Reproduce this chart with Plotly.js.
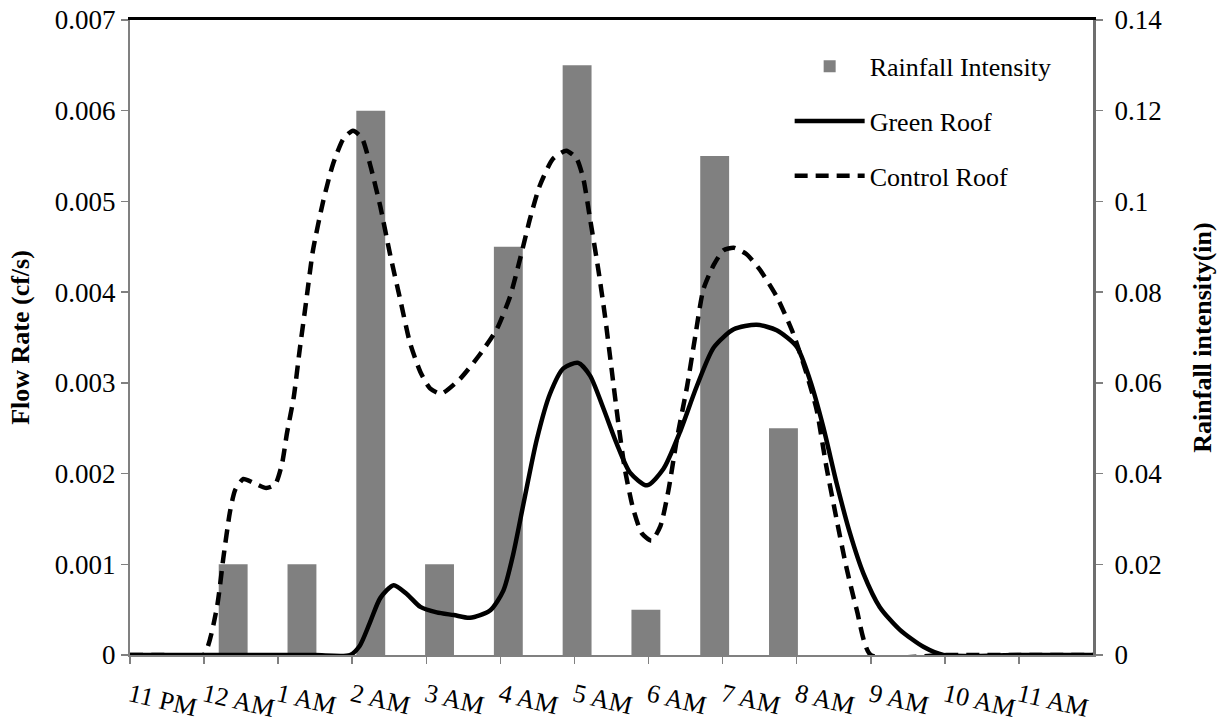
<!DOCTYPE html>
<html>
<head>
<meta charset="utf-8">
<script src="https://cdn.plot.ly/plotly-3.0.1.min.js"></script>
<style>
  html, body { margin: 0; padding: 0; background: #ffffff; }
  #chart { width: 1224px; height: 725px; }
</style>
</head>
<body>
<div id="chart"></div>
<script>
// Hour tick labels (hours since 11 PM)
const hourTicks = [0, 1, 2, 3, 4, 5, 6, 7, 8, 9, 10, 11, 12];
const hourLabels = ['11 PM', '12 AM', '1 AM', '2 AM', '3 AM', '4 AM', '5 AM', '6 AM', '7 AM', '8 AM', '9 AM', '10 AM', '11 AM'];

// Rainfall intensity (in) per bar category
const rainCats = [0, 1, 2, 3, 4, 5, 6, 7, 8, 9, 10, 11, 12, 13];
const rainfall = [0, 0.02, 0.02, 0.12, 0.02, 0.09, 0.13, 0.01, 0.11, 0.05, 0, 0, 0, 0];

// Control roof flow (cf/s) vs hours since 11 PM
const controlX = [0, 0.5, 0.99, 1.17, 1.26, 1.35, 1.42, 1.53, 1.66, 1.84, 1.96, 2.05, 2.12, 2.21, 2.29, 2.38, 2.47, 2.61, 2.74, 2.88, 3.01, 3.13, 3.24, 3.38, 3.51, 3.65, 3.78, 3.92, 4.05, 4.2, 4.45, 4.72, 4.95, 5.13, 5.27, 5.40, 5.53, 5.71, 5.89, 6.03, 6.12, 6.21, 6.32, 6.41, 6.50, 6.59, 6.68, 6.79, 6.91, 7.04, 7.16, 7.27, 7.38, 7.52, 7.63, 7.74, 7.88, 8.01, 8.15, 8.32, 8.50, 8.73, 8.95, 9.13, 9.27, 9.40, 9.54, 9.67, 9.81, 10.0, 11, 12, 13];
const controlY = [0, 0, 0, 0.00051, 0.00107, 0.00158, 0.00182, 0.00194, 0.0019, 0.00184, 0.00188, 0.0021, 0.00245, 0.00284, 0.00336, 0.00391, 0.00446, 0.00501, 0.00541, 0.00569, 0.00578, 0.0057, 0.00541, 0.00494, 0.00442, 0.00391, 0.00344, 0.00312, 0.00294, 0.00288, 0.00304, 0.00331, 0.00359, 0.00395, 0.00438, 0.00481, 0.00517, 0.00547, 0.00556, 0.00547, 0.00525, 0.00481, 0.00426, 0.00375, 0.00316, 0.00257, 0.00205, 0.00162, 0.00134, 0.00126, 0.00142, 0.00182, 0.00237, 0.00296, 0.00351, 0.00403, 0.0043, 0.00446, 0.00449, 0.00442, 0.00425, 0.00395, 0.00355, 0.00311, 0.0027, 0.00208, 0.00149, 0.00097, 0.0005, 0, 0, 0, 0];

// Green roof flow (cf/s) vs hours since 11 PM
const greenX = [0, 1, 2, 2.5, 2.97, 3.10, 3.24, 3.38, 3.56, 3.74, 3.92, 4.14, 4.37, 4.59, 4.86, 5.04, 5.17, 5.31, 5.49, 5.67, 5.85, 6.05, 6.21, 6.39, 6.57, 6.75, 6.98, 7.20, 7.42, 7.65, 7.88, 8.15, 8.46, 8.73, 9.0, 9.18, 9.36, 9.54, 9.72, 9.90, 10.12, 10.39, 10.71, 10.98, 12, 13];
const greenY = [0, 0, 0, 0, 0, 0.0001, 0.00036, 0.00063, 0.00077, 0.00067, 0.00053, 0.00047, 0.00044, 0.00041, 0.00049, 0.00071, 0.0011, 0.00166, 0.00237, 0.00288, 0.00316, 0.00322, 0.00308, 0.00272, 0.00233, 0.00201, 0.00187, 0.00205, 0.00245, 0.00296, 0.00339, 0.00359, 0.00364, 0.00358, 0.0034, 0.00303, 0.00251, 0.00189, 0.00134, 0.0009, 0.00053, 0.00028, 0.00009, 0, 0, 0];

const serif = 'Liberation Serif';

const traces = [
  {
    type: 'bar', name: 'Rainfall Intensity',
    x: rainCats, y: rainfall,
    xaxis: 'x', yaxis: 'y',
    marker: { color: '#808080', line: { width: 0 } },
    width: 0.42,
    legendgroup: 'a', hoverinfo: 'skip'
  },
  {
    type: 'scatter', mode: 'lines', name: 'Green Roof',
    x: greenX, y: greenY,
    xaxis: 'x2', yaxis: 'y2',
    line: { color: '#000000', width: 4.5, shape: 'spline', smoothing: 0.7 },
    legendgroup: 'b'
  },
  {
    type: 'scatter', mode: 'lines', name: 'Control Roof',
    x: controlX, y: controlY,
    xaxis: 'x2', yaxis: 'y2',
    line: { color: '#000000', width: 4.5, dash: '13px,8px', shape: 'spline', smoothing: 0.6 },
    legendgroup: 'c'
  }
];

const tickFont = { family: serif, size: 27, color: '#000000' };

const layout = {
  width: 1224, height: 725,
  margin: { l: 130, r: 131, t: 20, b: 70 },
  paper_bgcolor: '#ffffff', plot_bgcolor: '#ffffff',
  font: { family: serif, size: 26, color: '#000000' },
  showlegend: true,
  legend: {
    x: 0.685, y: 0.964, xanchor: 'left', yanchor: 'top',
    bgcolor: 'rgba(0,0,0,0)', borderwidth: 0,
    font: { family: serif, size: 26, color: '#000000' },
    traceorder: 'grouped', tracegroupgap: 18, itemwidth: 70
  },
  // bar category axis (drawn as the top border)
  xaxis: {
    domain: [0, 1], side: 'top', anchor: 'y',
    range: [-0.5, 13.5], type: 'linear',
    showline: true, linecolor: '#000000', linewidth: 3,
    showticklabels: false, ticks: '', showgrid: false, zeroline: false
  },
  // rainfall axis (right)
  yaxis: {
    side: 'right', anchor: 'x',
    range: [0, 0.14], dtick: 0.02, tick0: 0,
    ticks: 'outside', ticklen: 7, tickcolor: '#808080', tickwidth: 1.5,
    showline: true, linecolor: '#6e6e6e', linewidth: 3,
    showgrid: false, zeroline: false, exponentformat: 'none',
    tickfont: tickFont, ticklabelstandoff: 6,
    title: { text: '<b>Rainfall intensity(in)</b>', font: { family: serif, size: 26, color: '#000000' }, standoff: 32 }
  },
  // hour axis (bottom)
  xaxis2: {
    overlaying: 'x', side: 'bottom', anchor: 'y',
    range: [0, 13], tickmode: 'array', tickvals: hourTicks, ticktext: hourLabels,
    tickangle: 13, ticks: 'outside', ticklen: 7, tickcolor: '#808080', tickwidth: 1.5,
    showline: true, linecolor: '#808080', linewidth: 2,
    showgrid: false, zeroline: false, ticklabelstandoff: 6,
    tickfont: { family: serif, size: 26, color: '#000000' }
  },
  // flow axis (left)
  yaxis2: {
    overlaying: 'y', side: 'left', anchor: 'x',
    range: [0, 0.007], dtick: 0.001, tick0: 0,
    ticks: 'outside', ticklen: 7, tickcolor: '#808080', tickwidth: 1.5,
    showline: true, linecolor: '#808080', linewidth: 2,
    showgrid: false, zeroline: false, exponentformat: 'none',
    tickfont: tickFont,
    title: { text: '<b>Flow Rate (cf/s)</b>', font: { family: serif, size: 26, color: '#000000' }, standoff: 18 }
  }
};

Plotly.newPlot('chart', traces, layout, { displayModeBar: false, staticPlot: true });
</script>
</body>
</html>
